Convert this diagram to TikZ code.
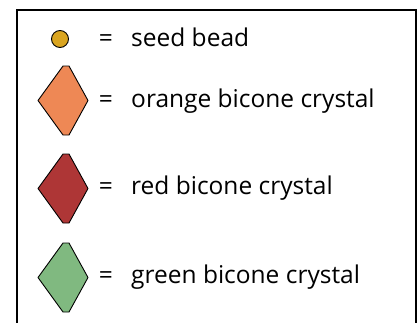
\documentclass[tikz,border=0pt]{standalone}
\usepackage{fontspec}
\setmainfont{Open Sans}
\definecolor{beadc}{HTML}{DAA520}
\definecolor{orangec}{HTML}{EE8855}
\definecolor{redc}{HTML}{AE3636}
\definecolor{greenc}{HTML}{80B980}
\begin{document}
\begin{tikzpicture}[x=1pt,y=-1pt,
  lbl/.style={anchor=base west, inner sep=0pt, font=\fontsize{24.5}{28}\selectfont},
  eq/.style={anchor=base, inner sep=0pt, font=\fontsize{24.5}{28}\selectfont},
  gem/.style={draw=black, line width=0.9pt, line join=round}]
\useasboundingbox (0,0) rectangle (419,322);
\draw[line width=2pt] (17,340) -- (17,10) -- (416,10) -- (416,340);
% seed bead
\node[circle, draw=black, line width=0.9pt, fill=beadc, minimum size=17pt, inner sep=0pt] (bead) at (60,39) {};
\node[eq] (e1) at (106,46) {=};
\node[lbl] (t1) at (131,46) {seed bead};
% orange
\draw[gem, fill=orangec] (63,66) -- (69,66) -- (88,100.5) -- (69,135) -- (63,135) -- (38,100.5) -- cycle;
\node[eq] (e2) at (106,107.5) {=};
\node[lbl] (t2) at (131,107.5) {orange bicone crystal};
% red
\draw[gem, fill=redc] (63,154) -- (69,154) -- (88,188.5) -- (69,223) -- (63,223) -- (38,188.5) -- cycle;
\node[eq] (e3) at (106,194.5) {=};
\node[lbl] (t3) at (131,194.5) {red bicone crystal};
% green
\draw[gem, fill=greenc] (63,243) -- (69,243) -- (88,277.5) -- (69,312) -- (63,312) -- (38,277.5) -- cycle;
\node[eq] (e4) at (106,283.5) {=};
\node[lbl] (t4) at (131,283.5) {green bicone crystal};
\end{tikzpicture}
\end{document}
